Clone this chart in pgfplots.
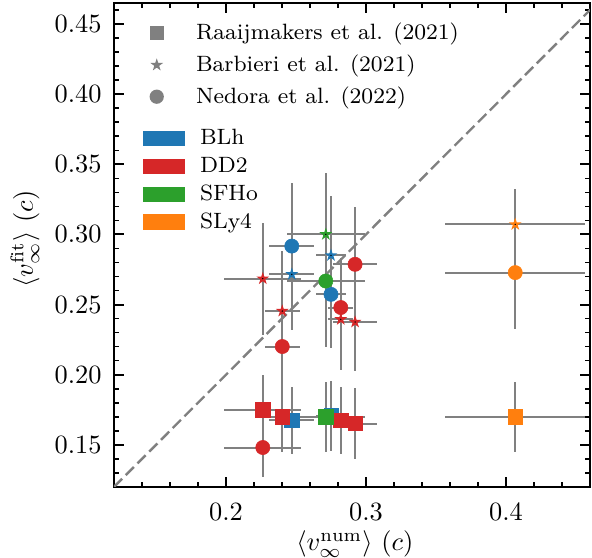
\documentclass[border=0pt]{standalone}
\usepackage{fontspec}
\usepackage{pgfplots}
\usepackage{pgfplotstable}
\pgfplotsset{compat=1.18}

\definecolor{cblh}{RGB}{31,119,180}
\definecolor{cdd2}{RGB}{214,39,40}
\definecolor{csfho}{RGB}{44,160,44}
\definecolor{csly4}{RGB}{255,127,14}
\definecolor{ebgray}{RGB}{128,128,128}
\definecolor{mkgray}{RGB}{128,128,128}

% filled five-pointed star centred on the origin
\newcommand\fstar[1]{%
  \fill[#1, draw=none] (90:2.55pt) -- (126:0.97pt) -- (162:2.55pt) -- (198:0.97pt)
    -- (234:2.55pt) -- (270:0.97pt) -- (306:2.55pt) -- (342:0.97pt)
    -- (18:2.55pt) -- (54:0.97pt) -- cycle;}

% columns: x, x error, then value and error for the square (Raaijmakers),
% star (Barbieri) and circle (Nedora) fits
\pgfplotstableread{
x      xe     ysq    ysqe   yst    yste   yci    ycie
0.2470 0.016  0.1676 0.024  0.2716 0.040  0.2917 0.045
0.2750 0.011  0.1708 0.025  0.2851 0.042  0.2573 0.038
}\blh
\pgfplotstableread{
x      xe     ysq    ysqe   yst    yste   yci    ycie
0.2263 0.0275 0.1750 0.025  0.2685 0.040  0.1481 0.021
0.2402 0.0126 0.1700 0.025  0.2454 0.043  0.2201 0.032
0.2820 0.009  0.1676 0.024  0.2395 0.036  0.2479 0.035
0.2922 0.016  0.1652 0.025  0.2376 0.035  0.2787 0.041
}\ddtwo
\pgfplotstableread{
x      xe     ysq    ysqe   yst    yste   yci    ycie
0.2713 0.028  0.1700 0.025  0.3001 0.044  0.2668 0.047
}\sfho
\pgfplotstableread{
x      xe     ysq    ysqe   yst    yste   yci    ycie
0.4066 0.050  0.1700 0.025  0.3072 0.025  0.2728 0.040
}\slyfour

\pgfplotsset{
  ebar/.style={forget plot, only marks, mark=*, mark size=0.01pt,
    mark options={draw=none, fill=none},
    error bars/.cd, x dir=both, x explicit, y dir=both, y explicit,
    error mark=none,
    error bar style={line width=0.75pt, ebgray}},
  msq/.style={forget plot, only marks, mark=square*, mark size=2.7pt,
    mark options={line width=0.2pt, draw=#1, fill=#1}, color=#1},
  mst/.style={forget plot, only marks, scatter, mark=*, mark size=0.01pt,
    mark options={draw=none, fill=none},
    scatter/@pre marker code/.code={\fstar{#1}},
    scatter/@post marker code/.code={}},
  mci/.style={forget plot, only marks, mark=*, mark size=2.7pt,
    mark options={line width=0.2pt, draw=#1, fill=#1}, color=#1},
}

\begin{document}
\begin{tikzpicture}
\begin{axis}[
  name=main,
  scale only axis,
  width=180.4pt, height=183.4pt,
  xmin=0.12, xmax=0.46, ymin=0.12, ymax=0.465,
  xtick={0.2,0.3,0.4},
  ytick={0.15,0.20,0.25,0.30,0.35,0.40,0.45},
  minor xtick={0.12,0.14,...,0.461},
  minor ytick={0.12,0.13,...,0.4651},
  xticklabel style={/pgf/number format/fixed, /pgf/number format/fixed zerofill,
    /pgf/number format/precision=1, yshift=-2.6pt},
  yticklabel style={/pgf/number format/fixed, /pgf/number format/fixed zerofill,
    /pgf/number format/precision=2, xshift=-1.2pt},
  tick align=inside, tick pos=both, ticklabel pos=left,
  major tick length=3.8pt, minor tick length=1.9pt,
  every major tick/.append style={black, line width=0.75pt},
  every minor tick/.append style={black, line width=0.6pt},
  axis line style={line width=1pt},
  xlabel={$\langle v_{\infty}^{\mathrm{num}}\rangle$ $(c)$},
  ylabel={$\langle v_{\infty}^{\mathrm{fit}}\rangle$ $(c)$},
  xlabel style={at={(axis description cs:0.506,-0.118)}, anchor=center},
  ylabel style={at={(axis description cs:-0.187,0.512)}, anchor=center},
  legend cell align=left,
  legend style={at={(rel axis cs:0,1)}, anchor=north west,
    xshift=7.2pt, yshift=-7pt,
    draw=none, fill=none, inner sep=0pt, outer sep=0pt, row sep=3pt,
    font=\fontsize{8.4pt}{10pt}\selectfont,
    nodes={inner sep=0pt, text height=6.9pt, text depth=2.1pt},
    /tikz/every odd column/.style={column sep=3.9pt}},
]
% reference line v_fit = v_num
\addplot[forget plot, ebgray, line width=0.9pt, dash pattern=on 4.4pt off 1.9pt]
  coordinates {(0.12,0.12) (0.47,0.47)};

% error bars
\addplot[ebar] table[x=x, y=ysq, x error=xe, y error=ysqe]{\blh};
\addplot[ebar] table[x=x, y=yst, x error=xe, y error=yste]{\blh};
\addplot[ebar] table[x=x, y=yci, x error=xe, y error=ycie]{\blh};
\addplot[ebar] table[x=x, y=ysq, x error=xe, y error=ysqe]{\ddtwo};
\addplot[ebar] table[x=x, y=yst, x error=xe, y error=yste]{\ddtwo};
\addplot[ebar] table[x=x, y=yci, x error=xe, y error=ycie]{\ddtwo};
\addplot[ebar] table[x=x, y=ysq, x error=xe, y error=ysqe]{\sfho};
\addplot[ebar] table[x=x, y=yst, x error=xe, y error=yste]{\sfho};
\addplot[ebar] table[x=x, y=yci, x error=xe, y error=ycie]{\sfho};
\addplot[ebar] table[x=x, y=ysq, x error=xe, y error=ysqe]{\slyfour};
\addplot[ebar] table[x=x, y=yst, x error=xe, y error=yste]{\slyfour};
\addplot[ebar] table[x=x, y=yci, x error=xe, y error=ycie]{\slyfour};

% markers
\addplot[msq=cblh] table[x=x, y=ysq]{\blh};
\addplot[mst=cblh] table[x=x, y=yst]{\blh};
\addplot[mci=cblh] table[x=x, y=yci]{\blh};
\addplot[msq=cdd2] table[x=x, y=ysq]{\ddtwo};
\addplot[mst=cdd2] table[x=x, y=yst]{\ddtwo};
\addplot[mci=cdd2] table[x=x, y=yci]{\ddtwo};
\addplot[msq=csfho] table[x=x, y=ysq]{\sfho};
\addplot[mst=csfho] table[x=x, y=yst]{\sfho};
\addplot[mci=csfho] table[x=x, y=yci]{\sfho};
\addplot[msq=csly4] table[x=x, y=ysq]{\slyfour};
\addplot[mst=csly4] table[x=x, y=yst]{\slyfour};
\addplot[mci=csly4] table[x=x, y=yci]{\slyfour};

% legend of fitting formulae
\addlegendimage{legend image code/.code={
  \path[draw=none, fill=none] (0pt,-3pt) rectangle (20pt,3pt);
  \fill[mkgray, draw=none] (9pt,0pt) +(-2.7pt,-2.7pt) rectangle +(2.7pt,2.7pt);}}
\addlegendentry{Raaijmakers et al. (2021)}
\addlegendimage{legend image code/.code={
  \path[draw=none, fill=none] (0pt,-3pt) rectangle (20pt,3pt);
  \begin{scope}[shift={(9pt,0pt)}]\fstar{mkgray}\end{scope}}}
\addlegendentry{Barbieri et al. (2021)}
\addlegendimage{legend image code/.code={
  \path[draw=none, fill=none] (0pt,-3pt) rectangle (20pt,3pt);
  \fill[mkgray, draw=none] (9pt,0pt) circle[radius=2.7pt];}}
\addlegendentry{Nedora et al. (2022)}
\end{axis}

% legend of equations of state
\begin{axis}[
  at={(main.south west)}, anchor=south west,
  scale only axis, width=180.4pt, height=183.4pt,
  xmin=0, xmax=1, ymin=0, ymax=1, hide axis,
  legend cell align=left,
  legend style={at={(rel axis cs:0,1)}, anchor=north west,
    xshift=11pt, yshift=-46.7pt,
    draw=none, fill=none, inner sep=0pt, outer sep=0pt, row sep=1.6pt,
    font=\fontsize{8.4pt}{10pt}\selectfont,
    nodes={inner sep=0pt, text height=6.9pt, text depth=2.1pt},
    /tikz/every odd column/.style={column sep=5.7pt}},
]
\addlegendimage{legend image code/.code={\fill[cblh, draw=none] (0pt,-2.85pt) rectangle (15.9pt,2.85pt);}}
\addlegendentry{BLh}
\addlegendimage{legend image code/.code={\fill[cdd2, draw=none] (0pt,-2.85pt) rectangle (15.9pt,2.85pt);}}
\addlegendentry{DD2}
\addlegendimage{legend image code/.code={\fill[csfho, draw=none] (0pt,-2.85pt) rectangle (15.9pt,2.85pt);}}
\addlegendentry{SFHo}
\addlegendimage{legend image code/.code={\fill[csly4, draw=none] (0pt,-2.85pt) rectangle (15.9pt,2.85pt);}}
\addlegendentry{SLy4}
\end{axis}

\pgfresetboundingbox
\path ([xshift=-43.2pt, yshift=-26.9pt]main.south west)
  rectangle ([xshift=0.76pt, yshift=1.14pt]main.north east);
\end{tikzpicture}
\end{document}
